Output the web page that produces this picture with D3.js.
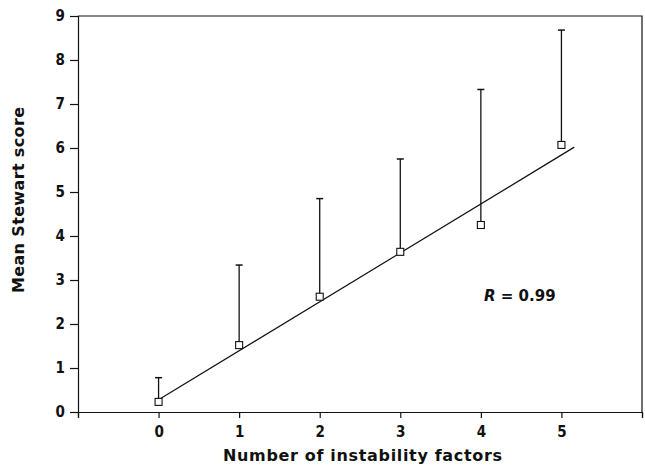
<!DOCTYPE html>
<html>
<head>
<meta charset="utf-8">
<script src="https://cdn.jsdelivr.net/npm/d3@7"></script>
<style>
    body { margin: 0; background: #fff; }
    svg { display: block; }
    .tick text { font-family: "DejaVu Sans Condensed", "DejaVu Sans", sans-serif; font-weight: bold; font-size: 15px; fill: #111; }
    .label { font-family: "DejaVu Sans", sans-serif; font-size: 16px; fill: #111; }
</style>
</head>
<body>
<svg width="645" height="472"></svg>
<script>
// values
const factors = [0, 1, 2, 3, 4, 5]
const means = [0.23, 1.52, 2.62, 3.64, 4.25, 6.07]
const upper = [0.78, 3.34, 4.85, 5.75, 7.33, 8.68]
const fitX = [0.02, 5.16]
const fitY = [0.3, 6.02]
const yTicks = [0, 1, 2, 3, 4, 5, 6, 7, 8, 9]
const xTicks = [-1, 0, 1, 2, 3, 4, 5, 6]

const svg = d3.select("svg")
const xScale = d3.scaleLinear().domain([-1, 6]).range([78, 642])
const yScale = d3.scaleLinear().domain([0, 9]).range([412, 16])

const yAxis = d3.axisLeft(yScale).tickValues(yTicks).tickSize(8).tickPadding(5).tickFormat(d3.format("d"))
const xAxis = d3.axisBottom(xScale).tickValues(xTicks).tickSize(6).tickPadding(8)
    .tickFormat(d => (d < 0 || d > 5) ? "" : d)

svg.append("g")
    .attr("id", "yAxisG")
    .attr("transform", "translate(78, 0)")
    .call(yAxis)

svg.append("g")
    .attr("id", "xAxisG")
    .attr("transform", "translate(0, 412)")
    .call(xAxis)

svg.selectAll("path.domain").attr("stroke", "#111").attr("stroke-width", 1.2)
svg.selectAll(".tick line").attr("stroke", "#111").attr("stroke-width", 1.2)

// top and right of the frame
svg.append("path")
    .attr("d", `M${xScale(-1)},${yScale(9)}H${xScale(6)}V${yScale(0)}`)
    .attr("fill", "none")
    .attr("stroke", "#111")
    .attr("stroke-width", 1.2)

// fitted line
const line = d3.line().x(d => xScale(d[0])).y(d => yScale(d[1]))
svg.append("path")
    .attr("d", line(d3.zip(fitX, fitY)))
    .attr("fill", "none")
    .attr("stroke", "#111")
    .attr("stroke-width", 1.2)

const pts = factors.map((f, i) => ({ f: f, m: means[i], u: upper[i] }))

const bars = svg.append("g").selectAll("g.err")
    .data(pts)
    .enter()
    .append("g")
    .attr("class", "err")

bars.append("line")
    .attr("x1", d => xScale(d.f))
    .attr("x2", d => xScale(d.f))
    .attr("y1", d => yScale(d.m))
    .attr("y2", d => yScale(d.u))
    .attr("stroke", "#111")
    .attr("stroke-width", 1.3)

bars.append("line")
    .attr("x1", d => xScale(d.f) - 3.5)
    .attr("x2", d => xScale(d.f) + 3.5)
    .attr("y1", d => yScale(d.u))
    .attr("y2", d => yScale(d.u))
    .attr("stroke", "#111")
    .attr("stroke-width", 1.5)

bars.append("rect")
    .attr("x", d => xScale(d.f) - 3.5)
    .attr("y", d => yScale(d.m) - 3.5)
    .attr("width", 7)
    .attr("height", 7)
    .attr("fill", "#fff")
    .attr("stroke", "#111")
    .attr("stroke-width", 1.1)

// R annotation
const r = svg.append("text")
    .attr("x", 484)
    .attr("y", 301)
    .attr("class", "label")
    .style("font-size", "15px")
    .style("font-weight", "600")
r.append("tspan").text("R").style("font-style", "italic").style("font-weight", "bold")
r.append("tspan").text(" = 0.99")

svg.append("text")
    .attr("class", "label")
    .attr("x", 223)
    .attr("y", 461)
    .attr("textLength", 279)
    .attr("lengthAdjust", "spacing")
    .style("font-weight", "600")
    .text("Number of instability factors")

svg.append("text")
    .attr("class", "label")
    .attr("transform", "translate(24, 293) rotate(-90)")
    .attr("textLength", 186)
    .attr("lengthAdjust", "spacing")
    .style("font-weight", "600")
    .text("Mean Stewart score")
</script>
</body>
</html>
